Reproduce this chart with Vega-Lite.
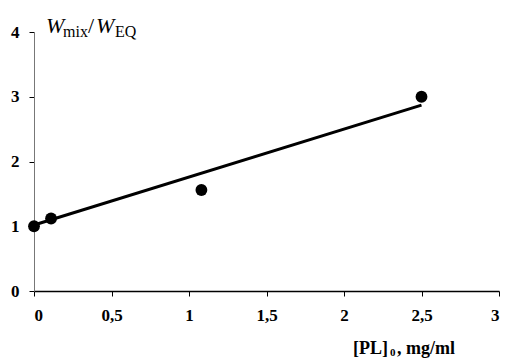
{
  "$schema": "https://vega.github.io/schema/vega-lite/v6.json",
  "width": 465,
  "height": 259,
  "autosize": {"type": "none"},
  "padding": {"left": 34, "top": 32, "right": 8, "bottom": 67},
  "background": "white",
  "config": {"view": {"stroke": null}},
  "datasets": {
    "points": [
      {"x": 0, "y": 1.0},
      {"x": 0.11, "y": 1.12},
      {"x": 1.08, "y": 1.56},
      {"x": 2.5, "y": 3.0}
    ],
    "fit": [
      {"x": 0, "y": 1.02},
      {"x": 2.5, "y": 2.87}
    ]
  },
  "layer": [
    {
      "data": {"name": "fit"},
      "mark": {"type": "line", "color": "black", "strokeWidth": 3},
      "encoding": {
        "x": {
          "field": "x", "type": "quantitative",
          "scale": {"domain": [0, 3], "nice": false},
          "axis": {
            "values": [0, 0.5, 1, 1.5, 2, 2.5, 3],
            "labelExpr": "replace(format(datum.value, '~g'), '.', ',')",
            "title": null, "grid": false,
            "domainColor": "black", "domainWidth": 1.5,
            "tickColor": "black", "tickSize": 5, "tickWidth": 1,
            "labelFont": "Liberation Serif", "labelFontWeight": "bold", "labelFontSize": 17,
            "labelColor": "black", "labelPadding": 11
          }
        },
        "y": {
          "field": "y", "type": "quantitative",
          "scale": {"domain": [0, 4], "nice": false},
          "axis": {
            "values": [0, 1, 2, 3, 4],
            "format": "d",
            "title": null, "grid": false,
            "domainColor": "#777777", "domainWidth": 1,
            "tickColor": "black", "tickSize": 5, "tickWidth": 1,
            "labelFont": "Liberation Serif", "labelFontWeight": "bold", "labelFontSize": 17,
            "labelColor": "black", "labelPadding": 10
          }
        }
      }
    },
    {
      "data": {"name": "points"},
      "mark": {"type": "circle", "color": "black", "opacity": 1, "size": 140},
      "encoding": {
        "x": {"field": "x", "type": "quantitative"},
        "y": {"field": "y", "type": "quantitative"}
      }
    },
    {
      "data": {"values": [{"x": 0.077, "y": 3.985, "t": "W"}, {"x": 0.4, "y": 3.985, "t": "W"}]},
      "mark": {"type": "text", "align": "left", "baseline": "alphabetic", "font": "Liberation Serif", "fontStyle": "italic", "fontSize": 22, "color": "black"},
      "encoding": {
        "x": {"field": "x", "type": "quantitative"},
        "y": {"field": "y", "type": "quantitative"},
        "text": {"field": "t"}
      }
    },
    {
      "data": {"values": [{"x": 0.348, "y": 3.985, "t": "/"}]},
      "mark": {"type": "text", "align": "left", "baseline": "alphabetic", "font": "Liberation Serif", "fontSize": 22, "color": "black"},
      "encoding": {
        "x": {"field": "x", "type": "quantitative"},
        "y": {"field": "y", "type": "quantitative"},
        "text": {"field": "t"}
      }
    },
    {
      "data": {"values": [{"x": 0.187, "y": 3.93, "t": "mix"}, {"x": 0.523, "y": 3.93, "t": "EQ"}]},
      "mark": {"type": "text", "align": "left", "baseline": "alphabetic", "font": "Liberation Serif", "fontSize": 16, "color": "black"},
      "encoding": {
        "x": {"field": "x", "type": "quantitative"},
        "y": {"field": "y", "type": "quantitative"},
        "text": {"field": "t"}
      }
    },
    {
      "data": {"values": [{"x": 2.058, "y": -0.973, "t": "[PL]"}, {"x": 2.342, "y": -0.973, "t": ", mg/ml"}]},
      "mark": {"type": "text", "align": "left", "baseline": "alphabetic", "font": "Liberation Serif", "fontWeight": "bold", "fontSize": 18, "color": "black"},
      "encoding": {
        "x": {"field": "x", "type": "quantitative"},
        "y": {"field": "y", "type": "quantitative"},
        "text": {"field": "t"}
      }
    },
    {
      "data": {"values": [{"x": 2.297, "y": -1.0, "t": "0"}]},
      "mark": {"type": "text", "align": "left", "baseline": "alphabetic", "font": "Liberation Serif", "fontWeight": "bold", "fontSize": 11, "color": "black"},
      "encoding": {
        "x": {"field": "x", "type": "quantitative"},
        "y": {"field": "y", "type": "quantitative"},
        "text": {"field": "t"}
      }
    }
  ]
}
